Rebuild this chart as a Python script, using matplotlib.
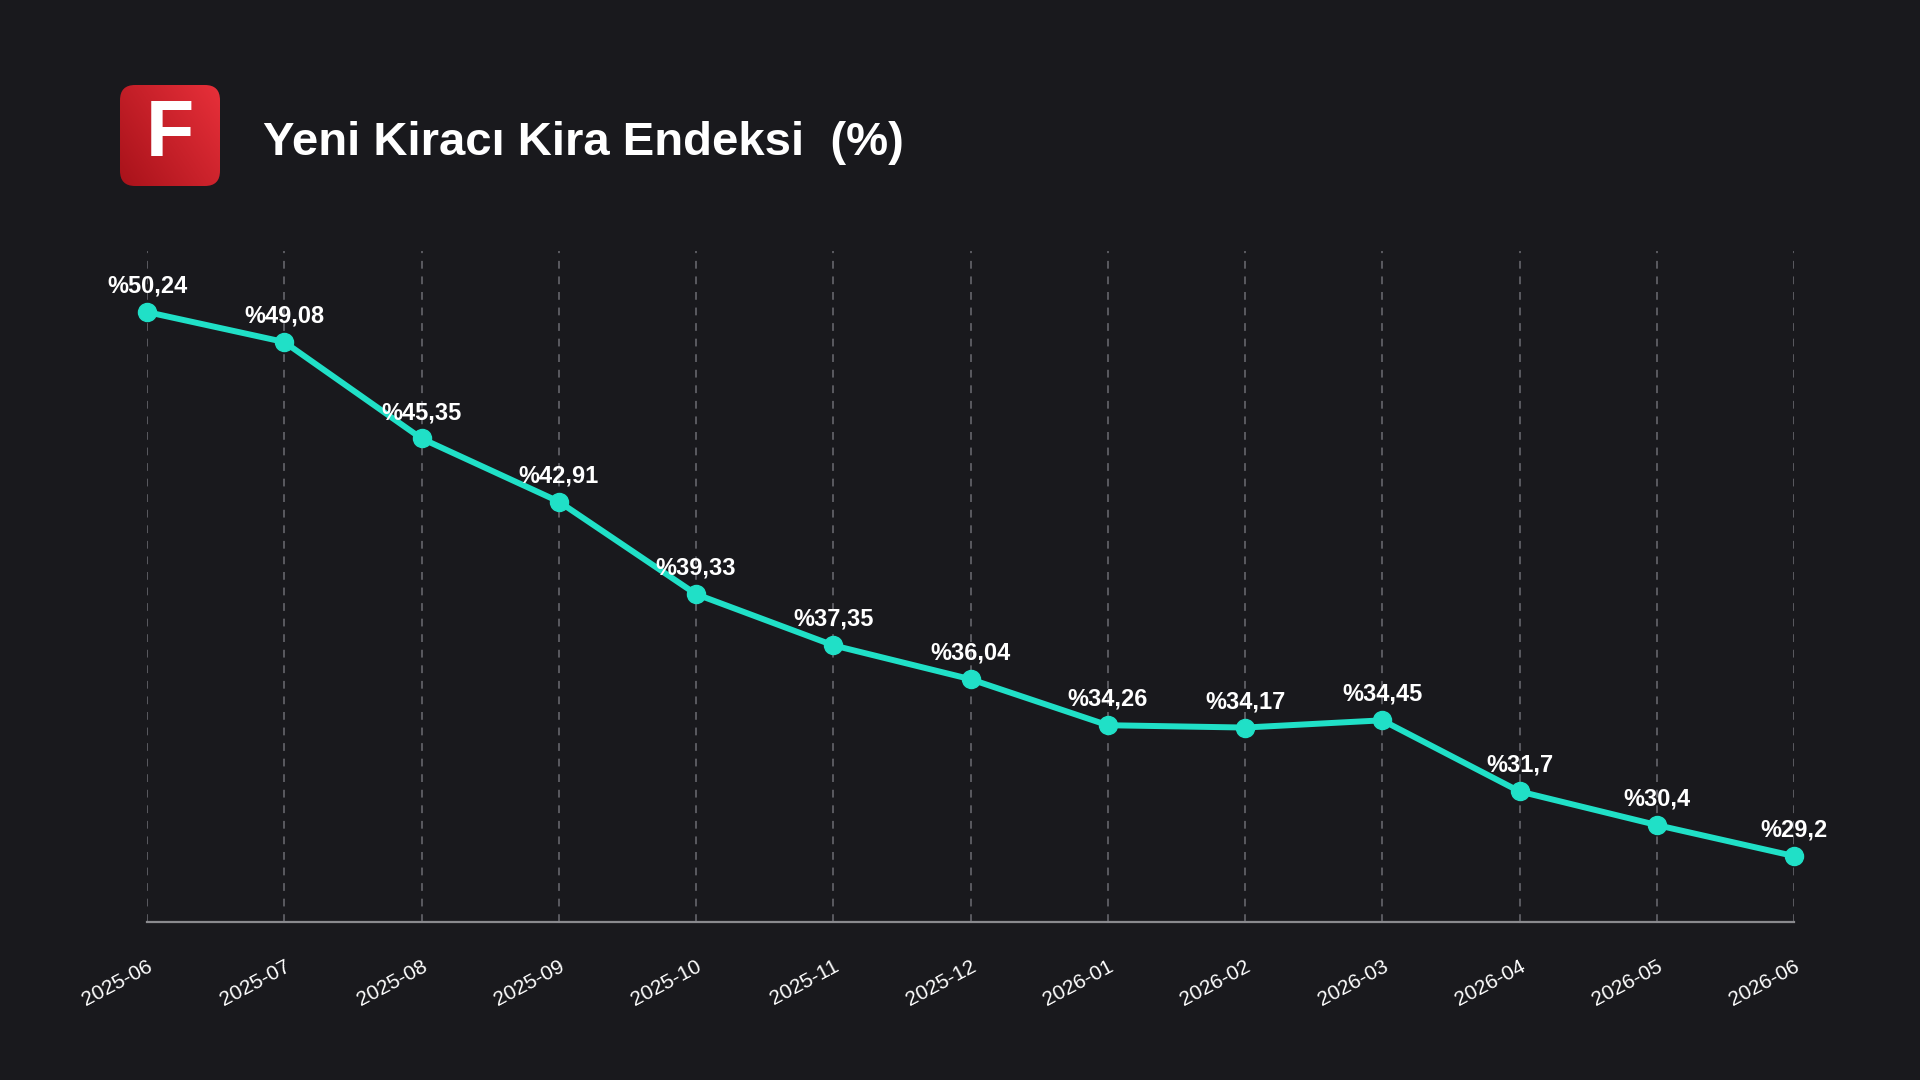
import matplotlib
matplotlib.use("Agg")
import matplotlib.pyplot as plt
import matplotlib.patches as patches
import numpy as np

plt.rcParams["font.family"] = ["Liberation Sans", "DejaVu Sans"]

months = ["2025-06", "2025-07", "2025-08", "2025-09", "2025-10", "2025-11", "2025-12",
          "2026-01", "2026-02", "2026-03", "2026-04", "2026-05", "2026-06"]
values = [50.24, 49.08, 45.35, 42.91, 39.33, 37.35, 36.04, 34.26, 34.17, 34.45, 31.7, 30.4, 29.2]
labels = ["%50,24", "%49,08", "%45,35", "%42,91", "%39,33", "%37,35", "%36,04",
          "%34,26", "%34,17", "%34,45", "%31,7", "%30,4", "%29,2"]
title = "Yeni Kiracı Kira Endeksi  (%)"

bg = "#19191d"
teal = "#20e0c7"

fig = plt.figure(figsize=(19.2, 10.8), dpi=100)
fig.patch.set_facecolor(bg)

ax = fig.add_axes([147 / 1920, 1 - 922 / 1080, (1794 - 147) / 1920, (922 - 251) / 1080])
ax.set_facecolor(bg)

x = np.arange(len(values))
ax.plot(x, values, color=teal, linewidth=4.3, marker="o", markersize=13,
        zorder=3, clip_on=False)
for xi, v, lab in zip(x, values, labels):
    ax.annotate(lab, (xi, v), xytext=(0, 14), textcoords="offset points",
                ha="center", va="baseline", fontsize=17, fontweight="bold",
                color="white", zorder=4)

ax.set_xlim(0, len(values) - 1)
ax.set_ylim(26.65, 52.6)
ax.set_xticks(x)
ax.set_xticklabels(months, rotation=28, ha="right", rotation_mode="anchor",
                   fontsize=15, color="white")
ax.tick_params(axis="x", length=0, pad=25)
ax.set_yticks([])
ax.grid(axis="x", color="#5a5a60", linestyle=(0, (4, 4)), linewidth=1.4)
for side in ["top", "left", "right"]:
    ax.spines[side].set_visible(False)
ax.spines["bottom"].set_color("#8a8a8e")
ax.spines["bottom"].set_linewidth(1.6)

# logo: red rounded square with white F
lax = fig.add_axes([120 / 1920, 1 - 186 / 1080, 100 / 1920, 101 / 1080])
lax.set_xlim(0, 1)
lax.set_ylim(0, 1)
lax.axis("off")
gy, gx = np.mgrid[0:1:200j, 0:1:200j]
grad = gx * 0.6 + gy * 0.4
reds = matplotlib.colors.LinearSegmentedColormap.from_list("r", ["#a8121a", "#e8303a"])
img = lax.imshow(grad, extent=(0, 1, 0, 1), origin="lower", cmap=reds, aspect="auto")
box = patches.FancyBboxPatch((0.0, 0.0), 1.0, 1.0, boxstyle="round,pad=0,rounding_size=0.15",
                             transform=lax.transData, facecolor="none", edgecolor="none")
lax.add_patch(box)
img.set_clip_path(box)
lax.text(0.5, 0.5, "F", ha="center", va="center", fontsize=57, fontweight="bold", color="white")

fig.text(263 / 1920, 1 - 143 / 1080, title, ha="left", va="center",
         fontsize=34, fontweight="bold", color="white")

fig.savefig("out.png", dpi=100, facecolor=bg)
